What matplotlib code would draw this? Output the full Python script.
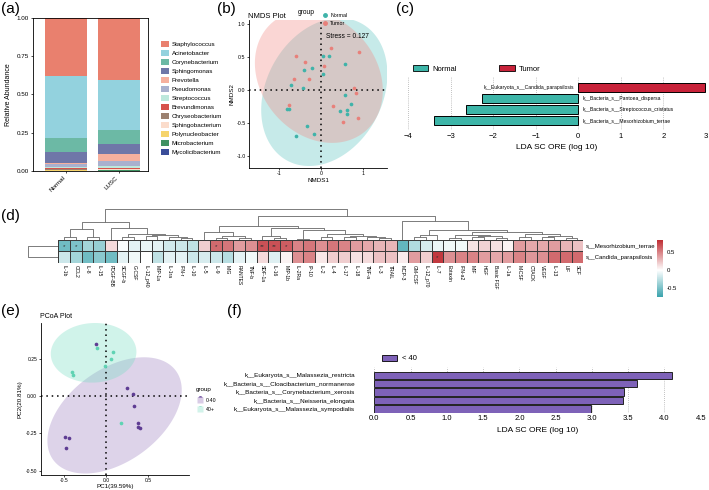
import numpy as np
import matplotlib
matplotlib.use('Agg')
import matplotlib.pyplot as plt
from matplotlib.patches import Patch
from matplotlib.lines import Line2D
from matplotlib.colors import LinearSegmentedColormap, Normalize

plt.rcParams['font.family'] = ['Liberation Sans', 'DejaVu Sans']
plt.rcParams['axes.unicode_minus'] = True

# ---------------- data ----------------
# (a) relative abundance, legend order (top of stack first)
genera = ['Staphylococcus', 'Acinetobacter', 'Corynebacterium', 'Sphingomonas', 'Prevotella',
          'Pseudomonas', 'Streptococcus', 'Brevundimonas', 'Chryseobacterium', 'Sphingobacterium',
          'Polynucleobacter', 'Microbacterium', 'Mycolicibacterium']
genus_colors = ['#E9806E', '#93D2DE', '#6CB9A5', '#6F77A8', '#F6B09E', '#A9B0CE', '#BDE8DC',
                '#D6524B', '#9C8170', '#FBDCCB', '#F6D46B', '#3F9162', '#3A4D99']
samples_a = ['Normal', 'LUSC']
abund_normal = [0.380, 0.405, 0.090, 0.070, 0.010, 0.020, 0.008, 0.006, 0.004, 0.003, 0.002, 0.001, 0.001]
abund_lusc = [0.402, 0.332, 0.088, 0.065, 0.048, 0.030, 0.015, 0.006, 0.004, 0.004, 0.002, 0.002, 0.002]

# (b) NMDS
nmds_normal_x = [-0.40, -0.21, -0.71, -0.43, 0.06, 0.20, 0.06, 0.58, 0.57, 0.71, 0.46, 0.63, 0.63, -0.81, -0.75, -0.32, -0.16, -0.60]
nmds_normal_y = [0.30, 0.33, 0.08, 0.03, 0.52, 0.52, 0.25, 0.39, -0.08, -0.21, -0.32, -0.30, -0.36, -0.29, -0.29, -0.55, -0.67, -0.69]
nmds_tumor_x = [-0.60, -0.38, -0.64, -0.28, 0.24, 0.07, 0.90, 0.79, 0.83, 0.29, 0.52, 0.88, -0.75]
nmds_tumor_y = [0.51, 0.42, 0.16, 0.16, 0.63, 0.37, 0.57, 0.03, -0.04, -0.24, -0.48, -0.42, -0.22]
# ellipses: centre x, centre y, x radius, y radius, phase (tilt; 90 = upright)
ell_normal = [0.08, -0.03, 1.50, 1.12, 76]
ell_tumor = [-0.05, 0.20, 1.52, 1.00, 102]

# (c) LEfSe tumour vs normal
lefse_c_names = ['k__Eukaryota_s__Candida_parapsilosis', 'k__Bacteria_s__Pantoea_dispersa',
                 'k__Bacteria_s__Streptococcus_cristatus', 'k__Bacteria_s__Mesorhizobium_terrae']
lefse_c_vals = [2.97, -2.27, -2.63, -3.38]

# (d) heatmap
cytokines = ['IL-1b', 'CCL2', 'IL-8', 'IL-15', 'PDGF-BB', 'SCGF-b', 'G-CSF', 'IL-12_p40', 'MIP-1a',
             'IL-1ra', 'IFN-r', 'IL-10', 'IL-5', 'IL-9', 'MIG', 'RANTES', 'TNF-b', 'SDF-1a', 'IL-16',
             'MIP-1b', 'IL-2Ra', 'IP-10', 'IL-2', 'IL-4', 'IL-17', 'IL-18', 'TNF-a', 'IL-3', 'TRAIL',
             'MCP-3', 'GM-CSF', 'IL-12_p70', 'IL-7', 'Eotaxin', 'IFN-a2', 'MIF', 'HGF', 'Basic FGF',
             'IL-1a', 'M-CSF', 'CTACK', 'VEGF', 'IL-13', 'LIF', 'SCF']
heat_rows = ['s__Mesorhizobium_terrae', 's__Candida_parapsilosis']
corr_meso = [-0.55, -0.50, -0.35, -0.40, 0.15, -0.02, -0.10, -0.08, -0.10, -0.18, -0.20, -0.25,
             0.20, 0.60, 0.55, 0.40, 0.45, 0.70, 0.70, 0.65, 0.50, 0.55, 0.45, 0.55, 0.50, 0.40,
             0.35, 0.30, 0.30, -0.60, -0.30, -0.15, -0.08, -0.05, -0.05, 0.12, 0.18, 0.12, 0.05,
             0.40, 0.35, 0.35, 0.40, 0.30, 0.25]
corr_cand = [-0.20, -0.35, -0.55, -0.45, -0.55, -0.10, -0.05, 0.00, -0.25, -0.10, -0.10, -0.20,
             -0.15, -0.20, -0.28, -0.10, -0.05, 0.15, -0.12, 0.05, 0.45, 0.50, 0.10, 0.20, 0.20,
             0.12, 0.15, 0.25, 0.25, 0.08, 0.40, 0.20, 0.80, 0.45, 0.50, 0.50, 0.40, 0.35, 0.40,
             0.50, 0.42, 0.45, 0.60, 0.60, 0.60]
stars_meso = {0: '*', 1: '*', 13: '*', 17: '**', 18: '**', 19: '*'}
stars_cand = {32: '*'}
# column dendrogram (left, right, merge height)
col_tree = ((((0, 1, 3.3), (2, 3, 3.3), 10.7),
             (4, ((5, 6, 2.5), ((7, 8, 3.5), (9, (10, 11, 1.5), 2.5), 4.5), 5.7), 12.3), 18.3),
            (((12, ((13, 14, 2.3), (15, 16, 2.3), 4.0), 8.0),
              ((17, (18, 19, 1.5), 4.0),
               ((20, 21, 1.3), ((22, 23, 2.5), ((24, 25, 2.5), (26, (27, 28, 1.5), 2.5), 4.0), 5.7), 9.7), 12.3), 14.0),
             (29, (((30, 31, 3.0), 32, 5.0),
                   (((33, 34, 2.0), ((35, 36, 2.5), (37, 38, 1.5), 3.5), 5.0),
                    ((39, 40, 3.0), ((41, 42, 2.5), (43, 44, 1.5), 3.5), 5.5), 8.0), 10.0), 19.0), 24.0), 30.7)

# (e) PCoA
pcoa_young_x = [0.246, 0.317, 0.337, 0.381, 0.377, 0.405, -0.492, -0.444, -0.484, -0.119]
pcoa_young_y = [0.056, 0.011, -0.067, -0.178, -0.207, -0.216, -0.273, -0.282, -0.347, 0.349]
pcoa_old_x = [-0.111, 0.087, 0.060, -0.012, -0.409, -0.397, 0.171]
pcoa_old_y = [0.320, 0.293, 0.249, 0.204, 0.160, 0.144, -0.178]
ell_young = [0.10, -0.13, 0.80, 0.39, 64]
ell_old = [-0.15, 0.29, 0.51, 0.20, 88]

# (f) LEfSe age
lefse_f_names = ['k__Eukaryota_s__Malassezia_restricta', 'k__Bacteria_s__Cloacibacterium_normanense',
                 'k__Bacteria_s__Corynebacterium_xerosis', 'k__Bacteria_s__Neisseria_elongata',
                 'k__Eukaryota_s__Malassezia_sympodialis']
lefse_f_vals = [4.10, 3.62, 3.44, 3.43, 2.99]

# ---------------- figure ----------------
W, H = 709, 490
fig = plt.figure(figsize=(7.09, 4.90), dpi=100)


def box(l, t, r, b):
    return [l / W, 1 - b / H, (r - l) / W, (b - t) / H]


def ftext(x, y, s, **kw):
    fig.text(x / W, 1 - y / H, s, **kw)


def ellipse_xy(e):
    t = np.linspace(0, 2 * np.pi, 200)
    return e[0] + e[2] * np.cos(t), e[1] + e[3] * np.cos(t - np.radians(e[4]))


for lab, x, y in [('(a)', 1, 9), ('(b)', 217, 9), ('(c)', 396, 9), ('(d)', 1, 216),
                  ('(e)', 1, 311), ('(f)', 227, 311)]:
    ftext(x, y, lab, fontsize=11, va='center')

# ---- (a) stacked bars
ax = fig.add_axes(box(33, 18, 148, 171))
bottom = np.zeros(2)
for i in range(len(genera) - 1, -1, -1):
    vals = np.array([abund_normal[i], abund_lusc[i]])
    ax.bar([0, 1], vals, 0.8, bottom=bottom, color=genus_colors[i], linewidth=0)
    bottom += vals
ax.set_xlim(-0.62, 1.55)
ax.set_ylim(0, 1)
ax.set_yticks([0, 0.25, 0.5, 0.75, 1.0])
ax.set_yticklabels(['0.00', '0.25', '0.50', '0.75', '1.00'], fontsize=4.5)
ax.set_xticks([0, 1])
ax.set_xticklabels(samples_a, rotation=45, ha='right', fontsize=4.5)
ax.tick_params(length=1.5, width=0.5, pad=1.5)
ax.set_ylabel('Relative Abundance', fontsize=5, labelpad=3)
for s in ax.spines.values():
    s.set_linewidth(0.6)
handles = [Patch(facecolor=c, edgecolor='none') for c in genus_colors]
fig.legend(handles, genera, loc='upper left', bbox_to_anchor=(155 / W, 1 - 35 / H), frameon=False,
           fontsize=4.5, handlelength=1.3, handleheight=1.1, labelspacing=0.46, handletextpad=0.5)

# ---- (b) NMDS
axb = fig.add_axes(box(249, 20, 387, 168))
for e, c in [(ell_normal, '#5EC4C0'), (ell_tumor, '#F38B85')]:
    ex, ey = ellipse_xy(e)
    axb.fill(ex, ey, color=c, alpha=0.35, lw=0)
axb.axhline(0, color='black', ls=(0, (1, 2.5)), lw=1.1)
axb.axvline(0, color='black', ls=(0, (1, 2.5)), lw=1.1)
axb.scatter(nmds_normal_x, nmds_normal_y, s=7, color='#3FB3A9', zorder=3, linewidths=0)
axb.scatter(nmds_tumor_x, nmds_tumor_y, s=7, color='#E8807A', zorder=3, linewidths=0)
axb.set_xlim(-1.71, 1.57)
axb.set_ylim(-1.18, 1.06)
axb.set_xticks([-1, 0, 1])
axb.set_yticks([-1.0, -0.5, 0.0, 0.5, 1.0])
axb.set_yticklabels(['-1.0', '-0.5', '0.0', '0.5', '1.0'])
axb.set_xticklabels(['-1', '0', '1'])
axb.tick_params(labelsize=3.8, length=1.5, width=0.5, pad=1)
axb.set_xlabel('NMDS1', fontsize=4.5, labelpad=1)
axb.set_ylabel('NMDS2', fontsize=4.5, labelpad=1)
for s in ['top', 'right']:
    axb.spines[s].set_visible(False)
for s in ['left', 'bottom']:
    axb.spines[s].set_linewidth(0.6)
axb.text(0.62, 0.81, 'Stress = 0.127', fontsize=4.8, ha='center', va='center')
ftext(248, 16, 'NMDS Plot', fontsize=5.5, va='center')
ftext(298, 12, 'group', fontsize=4.8, va='center')
hb = [Line2D([], [], marker='o', ls='', color='#3FB3A9', markersize=2.5, markerfacecolor='#3FB3A9'),
      Line2D([], [], marker='o', ls='', color='#E8807A', markersize=2.5, markerfacecolor='#E8807A')]
fig.legend(hb, ['Normal', 'Tumor'], loc='upper left', bbox_to_anchor=(318 / W, 1 - 8 / H), frameon=False,
           fontsize=3.8, handlelength=1.0, labelspacing=0.6, handletextpad=0.4)

# ---- (c) LEfSe
axc = fig.add_axes(box(408, 77, 706, 130))
ypos = np.arange(len(lefse_c_vals))[::-1]
ccols = ['#C8223A' if v > 0 else '#3DB5A8' for v in lefse_c_vals]
axc.barh(ypos, lefse_c_vals, height=0.82, color=ccols, edgecolor='black', linewidth=0.7, zorder=3)
for y, v, n in zip(ypos, lefse_c_vals, lefse_c_names):
    if v > 0:
        axc.text(-0.1, y, n, ha='right', va='center', fontsize=3.6, zorder=4)
    else:
        axc.text(0.1, y, n, ha='left', va='center', fontsize=3.6, zorder=4)
axc.set_xlim(-4, 3)
axc.set_ylim(-0.86, 3.95)
axc.set_xticks(range(-4, 4))
axc.set_xticklabels(['\u22124', '\u22123', '\u22122', '\u22121', '0', '1', '2', '3'], fontsize=5.5)
axc.set_yticks([])
axc.grid(axis='x', ls=(0, (1, 2)), color='#888888', lw=0.5)
axc.tick_params(length=0, pad=2)
for s in axc.spines.values():
    s.set_visible(False)
axc.set_xlabel('LDA SC ORE (log 10)', fontsize=6, labelpad=3)
hc = [Patch(facecolor='#3DB5A8', edgecolor='black', linewidth=0.6),
      Patch(facecolor='#C8223A', edgecolor='black', linewidth=0.6)]
fig.legend(hc, ['Normal', 'Tumor'], loc='center left', bbox_to_anchor=(406 / W, 1 - 69 / H), frameon=False,
           ncol=2, fontsize=5.5, handlelength=2.0, handleheight=0.8, columnspacing=5.5, handletextpad=0.6)

# ---- (d) heatmap with dendrograms
heat = np.array([corr_meso, corr_cand])
vmin, vmax = -0.76, 0.85
zpos = -vmin / (vmax - vmin)
cmap = LinearSegmentedColormap.from_list('tr', [(0, '#3AA3AD'), (zpos, '#FFFFFF'), (1, '#BF2D33')])
norm = Normalize(vmin=vmin, vmax=vmax)
axd = fig.add_axes(box(58.3, 240, 583.3, 263))
mesh = axd.pcolormesh(np.arange(len(cytokines) + 1), np.arange(3), heat, cmap=cmap, norm=norm,
                      edgecolors='#3A3A3A', linewidth=0.4)
axd.set_xlim(0, len(cytokines))
axd.set_ylim(2, 0)
axd.set_xticks(np.arange(len(cytokines)) + 0.5)
axd.set_xticklabels(cytokines, rotation=270, fontsize=3.6)
axd.yaxis.tick_right()
axd.set_yticks([0.5, 1.5])
axd.set_yticklabels(heat_rows, fontsize=4.3)
axd.tick_params(length=0, pad=1.5)
for s in axd.spines.values():
    s.set_visible(False)
for r, stars in enumerate([stars_meso, stars_cand]):
    for c, st in stars.items():
        axd.text(c + 0.5, r + 0.55, st, ha='center', va='center', fontsize=4.5, color='#333333')

axt = fig.add_axes(box(58.3, 200, 583.3, 240))


def draw_tree(a, node):
    if isinstance(node, int):
        return node + 0.5, 0.0
    left, right, h = node
    xl, hl = draw_tree(a, left)
    xr, hr = draw_tree(a, right)
    a.plot([xl, xl, xr, xr], [hl, h, h, hr], color='#666666', lw=0.6, solid_capstyle='butt')
    return (xl + xr) / 2, h


draw_tree(axt, col_tree)
axt.set_xlim(0, len(cytokines))
axt.set_ylim(0, 40)
axt.axis('off')

axr = fig.add_axes(box(28, 240, 58.3, 263))
axr.plot([1, 0, 0, 1], [0.5, 0.5, 1.5, 1.5], color='#666666', lw=0.6)
axr.set_xlim(0, 1)
axr.set_ylim(2, 0)
axr.axis('off')

cax = fig.add_axes(box(657, 240, 663, 297))
cb = fig.colorbar(mesh, cax=cax, ticks=[-0.5, 0, 0.5])
cb.outline.set_visible(False)
cb.ax.set_yticklabels(['-0.5', '0', '0.5'])
cb.ax.tick_params(length=0, labelsize=4.3, pad=3)

# ---- (e) PCoA
axe = fig.add_axes(box(40.7, 323, 189.3, 475))
for e, c in [(ell_young, '#9E82C2'), (ell_old, '#7ADDC4')]:
    ex, ey = ellipse_xy(e)
    axe.fill(ex, ey, color=c, alpha=0.35, lw=0)
axe.axhline(0, color='black', ls=(0, (1, 2.5)), lw=1.1)
axe.axvline(0, color='black', ls=(0, (1, 2.5)), lw=1.1)
axe.scatter(pcoa_young_x, pcoa_young_y, s=7, color='#5E3C93', zorder=3, linewidths=0)
axe.scatter(pcoa_old_x, pcoa_old_y, s=7, color='#5FD3B3', zorder=3, linewidths=0)
axe.set_xlim(-0.78, 0.99)
axe.set_ylim(-0.53, 0.49)
axe.set_xticks([-0.5, 0, 0.5])
axe.set_xticklabels(['-0.5', '0.0', '0.5'])
axe.set_yticks([-0.5, -0.25, 0, 0.25])
axe.set_yticklabels(['-0.50', '-0.25', '0.00', '0.25'])
axe.tick_params(labelsize=3.6, length=1.5, width=0.5, pad=1)
axe.set_xlabel('PC1(39.59%)', fontsize=4.5, labelpad=0.5)
axe.set_ylabel('PC2(20.81%)', fontsize=4.5, labelpad=2)
for s in ['top', 'right']:
    axe.spines[s].set_visible(False)
for s in ['left', 'bottom']:
    axe.spines[s].set_linewidth(0.6)
ftext(40, 316, 'PCoA Plot', fontsize=5, va='center')
ftext(196, 389, 'group', fontsize=4.5, va='center')
he = [Line2D([], [], marker='s', ls='', markersize=4.5, markerfacecolor='#D9CCE6', markeredgecolor='none'),
      Line2D([], [], marker='s', ls='', markersize=4.5, markerfacecolor='#D2F3EA', markeredgecolor='none')]
fig.legend(he, ['0-40', '40+'], loc='upper left', bbox_to_anchor=(193 / W, 1 - 393 / H), frameon=False,
           fontsize=3.8, handlelength=1.0, labelspacing=0.8, handletextpad=0.5)
for xx, yy, c in [(200, 398, '#5E3C93'), (200, 407.5, '#5FD3B3')]:
    fig.add_artist(Line2D([xx / W], [1 - yy / H], marker='o', ls='', color=c, markersize=2.3))

# ---- (f) LEfSe age
axf = fig.add_axes(box(374.3, 366.7, 700.7, 412.7))
fpos = np.arange(len(lefse_f_vals))[::-1]
axf.barh(fpos, lefse_f_vals, height=0.87, color='#7E62B8', edgecolor='#222222', linewidth=0.7, zorder=3)
axf.set_xlim(0, 4.5)
axf.set_ylim(-0.44, 5.02)
axf.set_xticks(np.arange(0, 4.51, 0.5))
axf.set_xticklabels(['%.1f' % v for v in np.arange(0, 4.51, 0.5)], fontsize=5.5)
axf.set_yticks(fpos)
axf.set_yticklabels(lefse_f_names, fontsize=4.6)
axf.grid(axis='x', ls=(0, (1, 2)), color='#888888', lw=0.5)
axf.tick_params(length=0, pad=2)
axf.tick_params(axis='y', pad=14)
for s in axf.spines.values():
    s.set_visible(False)
axf.set_xlabel('LDA SC ORE (log 10)', fontsize=6, labelpad=3)
hf = [Patch(facecolor='#7E62B8', edgecolor='black', linewidth=0.6)]
fig.legend(hf, ['< 40'], loc='center left', bbox_to_anchor=(375 / W, 1 - 358.5 / H), frameon=False,
           fontsize=5.5, handlelength=2.0, handleheight=0.8, handletextpad=0.6)

fig.savefig('out.png', dpi=100)
